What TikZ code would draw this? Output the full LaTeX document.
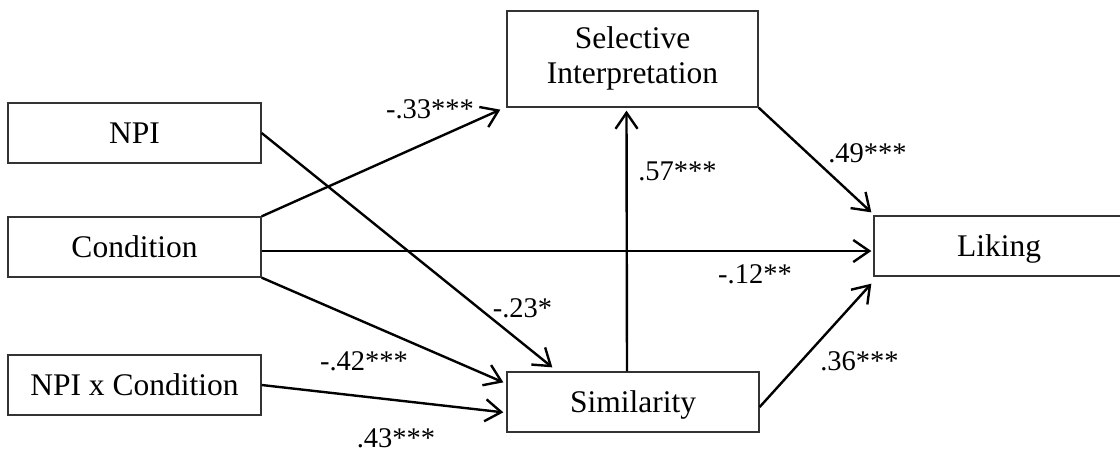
\documentclass[tikz,border=0pt]{standalone}
\usepackage{fontspec}
\setmainfont{Liberation Serif}
\usetikzlibrary{arrows.meta,calc}
\begin{document}
\begin{tikzpicture}[x=1pt,y=1pt,
  box/.style={draw=black!80, line width=1.3pt, rectangle, inner sep=0pt,
    font=\fontsize{31.5}{35}\selectfont, align=center},
  onebox/.style={box, text height=21pt, text depth=0pt},
  conn/.style={line width=2.4pt, -{Straight Barb[length=16pt,width=22pt,line width=2.4pt]}},
  lab/.style={font=\fontsize{28.5}{32}\selectfont, anchor=base, inner sep=0pt}]
\useasboundingbox (0,0) rectangle (1120,-451);
\node[box, minimum width=251pt, minimum height=96pt] (sel) at (632.5,-59)
  {\raisebox{-5pt}{\begin{tabular}{@{}c@{}}Selective\\Interpretation\end{tabular}}};
\node[onebox, minimum width=253pt, minimum height=60pt] (npi) at (134.5,-133) {NPI};
\node[onebox, minimum width=253pt, minimum height=60pt] (cond) at (134.5,-247) {Condition};
\node[onebox, minimum width=253pt, minimum height=60pt] (npic) at (134.5,-385) {NPI x Condition};
\node[onebox, minimum width=252pt, minimum height=60pt] (sim) at (633,-402) {Similarity};
\node[onebox, minimum width=250pt, minimum height=60pt] (lik) at (999,-246) {Liking};

\draw[conn] (npi.east) -- ([shift={(46,4)}]sim.north west);
\draw[conn] (cond.north east) -- ([shift={(-6,-2)}]sel.south west);
\draw[conn] ([yshift=-4]cond.east) -- ([shift={(-2,-5)}]lik.west);
\draw[conn] (cond.south east) -- ([shift={(-3,-11)}]sim.north west);
\draw[conn] (npic.east) -- ([shift={(-3,-41)}]sim.north west);
\draw[conn] ([xshift=-6]sim.north) -- ([shift={(-6,-3)}]sel.south);
\draw[conn] (sel.south east) -- ([shift={(-2,3)}]lik.north west);
\draw[conn] ([yshift=-5]sim.east) -- ([shift={(-2,-7)}]lik.south west);

\node[lab] (l1) at (430,-118) {-.33***};
\node[lab] (l2) at (522.5,-317) {-.23*};
\node[lab] (l3) at (364,-370) {-.42***};
\node[lab] (l4) at (396,-447) {.43***};
\node[lab] (l5) at (677.5,-180) {.57***};
\node[lab] (l6) at (755,-283) {-.12**};
\node[lab] (l7) at (867.5,-162) {.49***};
\node[lab] (l8) at (859.5,-370) {.36***};
\end{tikzpicture}
\end{document}
